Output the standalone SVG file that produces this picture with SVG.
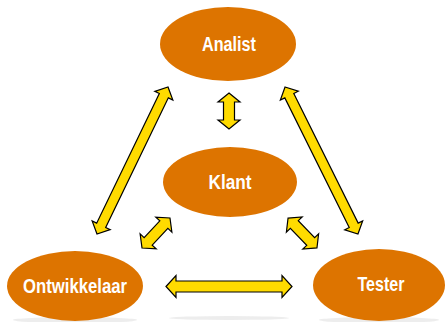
<svg xmlns="http://www.w3.org/2000/svg" width="445" height="322" viewBox="0 0 445 322">
<defs>
<style>
.node{fill:#dd7400}
.lbl{fill:#ffffff;font-family:"Liberation Sans",Arial,sans-serif;font-weight:bold;font-size:20px;text-anchor:middle}
.arr{fill:#ffdb00;stroke:#000000;stroke-width:1.2;stroke-linejoin:miter}
.shadow{fill:#d8d8d8;opacity:0.45}
</style>
</defs>
<rect width="445" height="322" fill="#ffffff"/>
<g id="floor">
<ellipse class="shadow" cx="75" cy="320" rx="62" ry="3"/>
<ellipse class="shadow" cx="379" cy="320" rx="60" ry="3"/>
<ellipse class="shadow" cx="229" cy="318" rx="60" ry="2"/>
</g>
<g id="connectors">
<polygon class="arr" transform="translate(229,111) rotate(90)" points="-18,0 -9,-11 -9,-5.5 9,-5.5 9,-11 18,0 9,11 9,5.5 -9,5.5 -9,11"/>
<polygon class="arr" transform="translate(132.5,160.5) rotate(115.8)" points="-81.6,0 -72,-10 -72,-5 72,-5 72,-10 81.6,0 72,10 72,5 -72,5 -72,10"/>
<polygon class="arr" transform="translate(321.5,160.5) rotate(63.6)" points="-82,0 -72.4,-10 -72.4,-5 72.4,-5 72.4,-10 82,0 72.4,10 72.4,5 -72.4,5 -72.4,10"/>
<polygon class="arr" transform="translate(156,233) rotate(133)" points="-20.5,0 -11.5,-11 -11.5,-5.5 11.5,-5.5 11.5,-11 20.5,0 11.5,11 11.5,5.5 -11.5,5.5 -11.5,11"/>
<polygon class="arr" transform="translate(302.5,233) rotate(46)" points="-20.8,0 -11.8,-11 -11.8,-5.5 11.8,-5.5 11.8,-11 20.8,0 11.8,11 11.8,5.5 -11.8,5.5 -11.8,11"/>
<polygon class="arr" transform="translate(229,286.5)" points="-63,0 -53,-11 -53,-5.5 53,-5.5 53,-11 63,0 53,11 53,5.5 -53,5.5 -53,11"/>
</g>
<g id="analist">
<ellipse class="node" cx="228" cy="44" rx="68" ry="37"/>
<text class="lbl" x="229" y="51" textLength="54" lengthAdjust="spacingAndGlyphs">Analist</text>
</g>
<g id="klant">
<ellipse class="node" cx="230" cy="182" rx="67" ry="35"/>
<text class="lbl" x="230" y="189" textLength="43" lengthAdjust="spacingAndGlyphs">Klant</text>
</g>
<g id="ontwikkelaar">
<ellipse class="node" cx="75" cy="286" rx="68" ry="35"/>
<text class="lbl" x="75" y="293" textLength="104" lengthAdjust="spacingAndGlyphs">Ontwikkelaar</text>
</g>
<g id="tester">
<ellipse class="node" cx="379" cy="285" rx="66" ry="36"/>
<text class="lbl" x="381" y="291" textLength="47" lengthAdjust="spacingAndGlyphs">Tester</text>
</g>
</svg>
